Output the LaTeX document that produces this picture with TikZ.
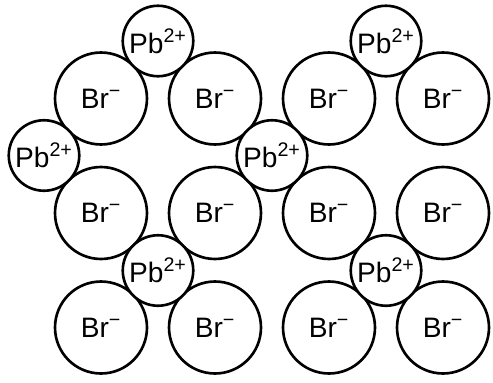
\documentclass[tikz,border=0pt]{standalone}
\usepackage{fontspec}
\setmainfont{Liberation Sans}
\usepackage{tikz}
\usetikzlibrary{positioning}

\begin{document}
\begin{tikzpicture}[x=0.02cm,y=-0.02cm,
  font=\fontsize{16}{19}\selectfont,
  anion/.style={draw,circle,line width=1.5pt,minimum size=1.84cm,inner sep=0pt},
  cation/.style={draw,circle,line width=1.5pt,fill=white,minimum size=1.41cm,inner sep=0pt}]
\useasboundingbox (0,0) rectangle (493,382);
% bromide ions
\node[anion] (br11) at (101,98.5) {Br\textsuperscript{−}};
\node[anion] (br12) at (215,98.5) {Br\textsuperscript{−}};
\node[anion] (br13) at (329,98.5) {Br\textsuperscript{−}};
\node[anion] (br14) at (443,98.5) {Br\textsuperscript{−}};
\node[anion] (br21) at (101,213) {Br\textsuperscript{−}};
\node[anion] (br22) at (215,213) {Br\textsuperscript{−}};
\node[anion] (br23) at (329,213) {Br\textsuperscript{−}};
\node[anion] (br24) at (443,213) {Br\textsuperscript{−}};
\node[anion] (br31) at (101,327.5) {Br\textsuperscript{−}};
\node[anion] (br32) at (215,327.5) {Br\textsuperscript{−}};
\node[anion] (br33) at (329,327.5) {Br\textsuperscript{−}};
\node[anion] (br34) at (443,327.5) {Br\textsuperscript{−}};
% lead ions
\node[cation] (pb1) at (158,41) {Pb\textsuperscript{2+}};
\node[cation] (pb2) at (386,41) {Pb\textsuperscript{2+}};
\node[cation] (pb3) at (44,155.5) {Pb\textsuperscript{2+}};
\node[cation] (pb4) at (272,155.5) {Pb\textsuperscript{2+}};
\node[cation] (pb5) at (158,270.5) {Pb\textsuperscript{2+}};
\node[cation] (pb6) at (386,270.5) {Pb\textsuperscript{2+}};
\end{tikzpicture}
\end{document}
